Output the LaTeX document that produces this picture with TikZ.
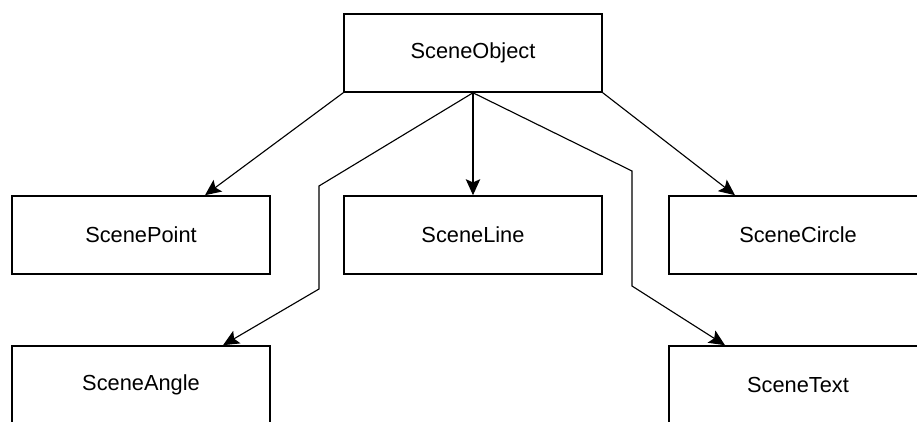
\documentclass[tikz,border=0pt]{standalone}
\usepackage{fontspec}
\setmainfont{Liberation Sans}
\usetikzlibrary{arrows.meta,calc}
\begin{document}
\begin{tikzpicture}[x=0.025cm,y=-0.025cm,
    cls/.style={draw,line width=1.1pt,minimum width=6.45cm,minimum height=1.95cm,
      inner sep=0pt,font=\fontsize{15.5}{18}\selectfont},
    inherit/.style={-{Stealth[length=0.4cm,width=0.36cm,inset=0.08cm]},line width=0.8pt}]
      \useasboundingbox (0,0) rectangle (917,422);
      \clip (0,0) rectangle (917,422);
      \draw
        (473,53) node[cls] (obj){SceneObject}
        (141,235) node[cls] (pnt){ScenePoint}
        (473,235) node[cls] (lin){SceneLine}
        (798,235) node[cls] (cir){SceneCircle}
        (141,385) node[cls] (ang){SceneAngle}
        (798,385) node[cls] (txt){SceneText};
      \coordinate (kl1) at (319,186);
      \coordinate (kl2) at (319,289);
      \coordinate (kr1) at (632,171);
      \coordinate (kr2) at (632,286);
      \begin{scope}[inherit]
        \draw (obj.south west) to ($(pnt.north)+(64,0)$);
        \draw (obj.south) to (lin.north);
        \draw (obj.south east) to ($(cir.north)+(-63,0)$);
        \draw (obj.south) -- (kl1) -- (kl2) -- ($(ang.north)+(82,0)$);
        \draw (obj.south) -- (kr1) -- (kr2) -- ($(txt.north)+(-73,0)$);
      \end{scope}
    \end{tikzpicture}
\end{document}
